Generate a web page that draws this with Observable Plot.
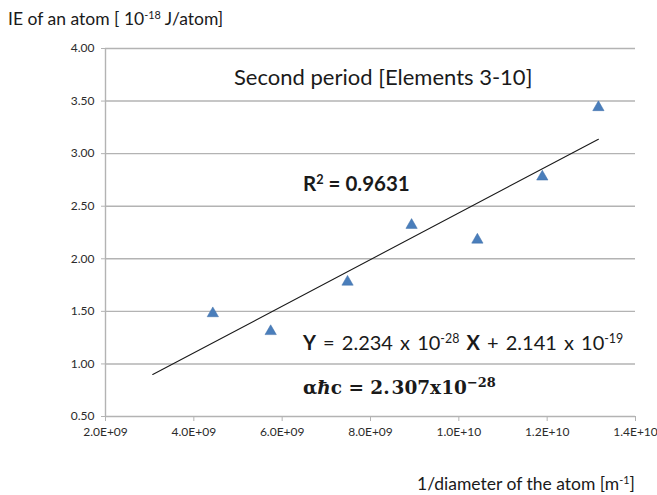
<!DOCTYPE html>
<html>
<head>
<meta charset="utf-8">
<script src="https://cdn.jsdelivr.net/npm/d3@7"></script>
<script src="https://cdn.jsdelivr.net/npm/@observablehq/plot@0.6"></script>
<style>
  html, body { margin: 0; padding: 0; background: #fff; }
  #wrap { position: relative; width: 657px; height: 495px; overflow: hidden; font-family: Lato, "Open Sans", sans-serif; color: #1a1a1a; }
  #wrap svg { position: absolute; left: 0; top: 0; }
  .lbl { position: absolute; white-space: nowrap; line-height: 1; }
  .lbl sup { font-size: 0.62em; vertical-align: 0.55em; line-height: 0; }
</style>
</head>
<body>
<div id="wrap"></div>
<script>
// ---- data ----
const invDiameter = [4.43e9, 5.74e9, 7.48e9, 8.93e9, 10.42e9, 11.89e9, 13.16e9]; // 1/diameter [m^-1]
const ionizationEnergy = [1.48, 1.31, 1.78, 2.32, 2.18, 2.78, 3.44];            // IE [10^-18 J/atom]
const trendStartX = 3.07e9;   // trendline is extended backwards to here
const xTicks = [2e9, 4e9, 6e9, 8e9, 1e10, 1.2e10, 1.4e10];
const yTicks = [0.5, 1.0, 1.5, 2.0, 2.5, 3.0, 3.5, 4.0];
const xDomain = [2e9, 1.4e10];
const yDomain = [0.5, 4.0];

const points = invDiameter.map((x, i) => ({x, y: ionizationEnergy[i]}));

// least-squares linear trend from the points
const mx = d3.mean(invDiameter), my = d3.mean(ionizationEnergy);
const sxy = d3.sum(points, d => (d.x - mx) * (d.y - my));
const sxx = d3.sum(points, d => (d.x - mx) ** 2);
const slope = sxy / sxx, intercept = my - slope * mx;
const trendEnds = [trendStartX, d3.max(invDiameter)].map(x => ({x, y: intercept + slope * x}));

const sciFormat = d => {
  const e = Math.floor(Math.log10(d) + 1e-9);
  const m = d / 10 ** e;
  return m.toFixed(1) + "E+" + (e < 10 ? "0" + e : e);
};

const gridColor = "#b3b3b3";

const chart = Plot.plot({
  width: 657,
  height: 495,
  marginLeft: 105,
  marginRight: 22,
  marginTop: 48,
  marginBottom: 79,
  style: {fontFamily: "Lato, 'Open Sans', sans-serif", fontSize: "12px", background: "transparent"},
  x: {domain: xDomain, type: "linear"},
  y: {domain: yDomain},
  marks: [
    Plot.gridY(yTicks.filter(t => t > yDomain[0]), {stroke: gridColor, strokeOpacity: 1, strokeWidth: 1.4}),
    Plot.ruleX([xDomain[0]], {stroke: gridColor, strokeWidth: 1.4}),
    Plot.ruleY([yDomain[0]], {stroke: gridColor, strokeWidth: 1.4}),
    Plot.axisY({ticks: yTicks, tickFormat: d => d.toFixed(2), tickSize: 4, tickPadding: 7, fontSize: 12, stroke: gridColor, fill: "#2b2b2b", label: null}),
    Plot.axisX({ticks: xTicks, tickFormat: sciFormat, tickSize: 5, tickPadding: 6, fontSize: 12, stroke: gridColor, fill: "#2b2b2b", label: null}),
    Plot.line(trendEnds, {x: "x", y: "y", stroke: "#1a1a1a", strokeWidth: 1.1}),
    Plot.dot(points, {x: "x", y: "y", symbol: "triangle", r: 4.2, fill: "#4a7ebb", stroke: "#3f6fa8", strokeWidth: 0.5})
  ]
});

const wrap = document.getElementById("wrap");
wrap.appendChild(chart);

// text annotations: [html, left, baseline, fontSize, extra style]
function label(html, left, baseline, fs, style = "", k = 0.89) {
  const d = document.createElement("div");
  d.className = "lbl";
  d.innerHTML = html;
  d.style.cssText += `left:${left}px;top:${baseline - k * fs}px;font-size:${fs}px;${style}`;
  wrap.appendChild(d);
  return d;
}
label("IE of an atom [ 10<sup>-18</sup> J/atom]", 8, 26, 17.5);
label("Second period [Elements 3-10]", 234, 86, 22);
label("R<sup>2</sup> = 0.9631", 303, 191, 20.5, "font-weight:700;");
label("<b>Y</b> = 2.234 x 10<sup>-28</sup> <b>X</b> + 2.141 x 10<sup>-19</sup>", 303, 350, 20, "word-spacing:2px;");
label("<b>α<i>ħ</i>c = 2.&#8202;307x10<sup style='font-size:0.7em'>−28</sup></b>", 303, 395, 18.5, "font-family:'DejaVu Serif',serif;", 0.85);
label("1/diameter of the atom [m<sup>-1</sup>]", 417, 491, 17.5);
</script>
</body>
</html>
